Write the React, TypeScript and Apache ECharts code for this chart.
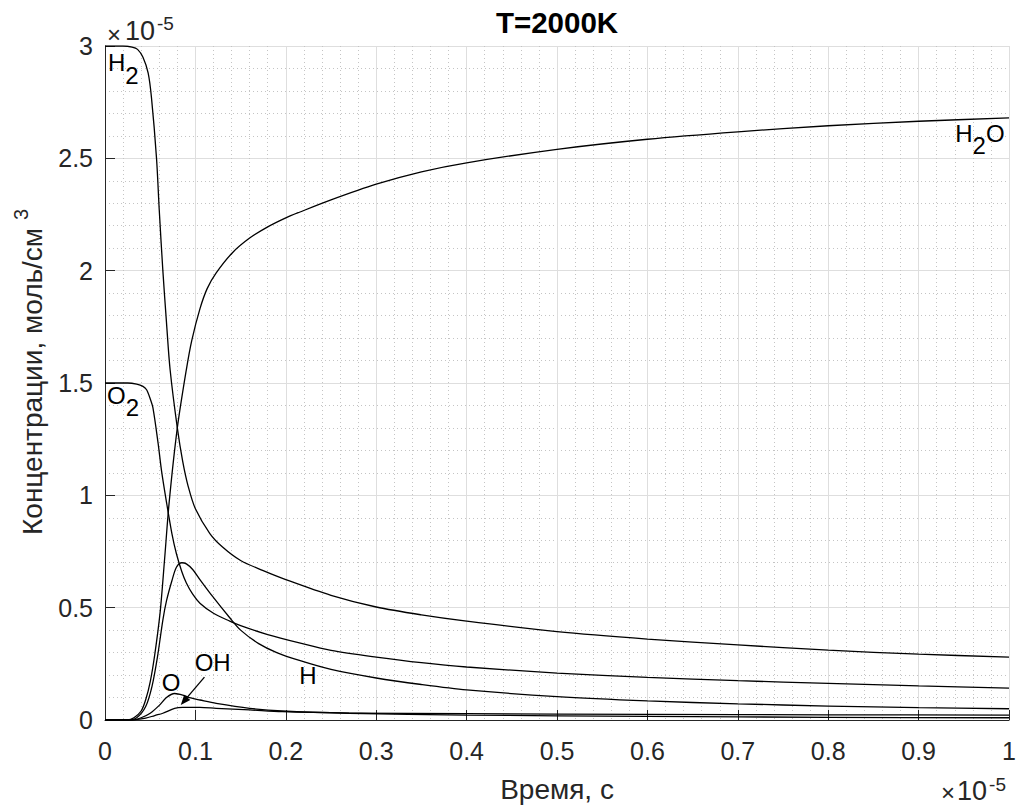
import { useEffect, useRef } from "react";
import * as echarts from "echarts";

const FONT = "'Liberation Sans', Arial, Helvetica, sans-serif";
const INK = "#262626";

// Time in units of 1e-5 s, concentrations in units of 1e-5 mol/cm^3
const h2Time = [0, 0.02, 0.03, 0.036, 0.042, 0.0477, 0.0514, 0.057, 0.06, 0.064, 0.068, 0.072, 0.08, 0.086, 0.092, 0.1, 0.116, 0.13, 0.15, 0.175, 0.2, 0.25, 0.3, 0.35, 0.4, 0.5, 0.6, 0.7, 0.8, 0.9, 1.0];
const h2Conc = [3.0, 3.0, 2.995, 2.985, 2.95, 2.88, 2.77, 2.5, 2.27, 2.0, 1.77, 1.56, 1.3, 1.15, 1.04, 0.94, 0.83, 0.77, 0.71, 0.665, 0.625, 0.555, 0.503, 0.468, 0.44, 0.393, 0.36, 0.334, 0.311, 0.293, 0.28];

const o2Time = [0, 0.025, 0.035, 0.042, 0.046, 0.05, 0.053, 0.0588, 0.0625, 0.068, 0.074, 0.079, 0.085, 0.09, 0.097, 0.105, 0.12, 0.138, 0.15, 0.18, 0.215, 0.25, 0.3, 0.35, 0.4, 0.5, 0.6, 0.7, 0.8, 0.9, 1.0];
const o2Conc = [1.5, 1.5, 1.495, 1.485, 1.47, 1.43, 1.39, 1.23, 1.11, 0.97, 0.83, 0.74, 0.66, 0.61, 0.56, 0.52, 0.475, 0.44, 0.42, 0.38, 0.343, 0.31, 0.28, 0.255, 0.236, 0.209, 0.19, 0.175, 0.163, 0.152, 0.142];

const h2oTime = [0, 0.025, 0.032, 0.04, 0.045, 0.05, 0.055, 0.061, 0.066, 0.071, 0.08, 0.09, 0.096, 0.105, 0.113, 0.123, 0.141, 0.16, 0.18, 0.2, 0.215, 0.25, 0.3, 0.35, 0.4, 0.5, 0.6, 0.7, 0.8, 0.9, 1.0];
const h2oConc = [0, 0, 0.01, 0.04, 0.09, 0.17, 0.29, 0.48, 0.72, 0.97, 1.3, 1.56, 1.69, 1.83, 1.92, 1.99, 2.08, 2.145, 2.195, 2.235, 2.26, 2.315, 2.385, 2.44, 2.48, 2.54, 2.585, 2.618, 2.645, 2.665, 2.68];

const hTime = [0, 0.025, 0.035, 0.045, 0.052, 0.058, 0.064, 0.068, 0.074, 0.079, 0.085, 0.09, 0.097, 0.105, 0.119, 0.138, 0.15, 0.17, 0.19, 0.215, 0.25, 0.3, 0.35, 0.4, 0.5, 0.6, 0.7, 0.8, 0.9, 1.0];
const hConc = [0, 0, 0.01, 0.06, 0.15, 0.28, 0.445, 0.53, 0.62, 0.68, 0.7, 0.695, 0.67, 0.625, 0.55, 0.455, 0.4, 0.34, 0.3, 0.265, 0.225, 0.187, 0.158, 0.134, 0.104, 0.085, 0.072, 0.062, 0.055, 0.05];

const oTime = [0, 0.03, 0.04, 0.05, 0.06, 0.068, 0.077, 0.086, 0.095, 0.105, 0.123, 0.16, 0.196, 0.27, 0.4, 0.6, 0.8, 1.0];
const oConc = [0, 0, 0.01, 0.03, 0.065, 0.1, 0.118, 0.111, 0.098, 0.089, 0.074, 0.052, 0.04, 0.03, 0.022, 0.016, 0.012, 0.01];

const ohTime = [0, 0.03, 0.045, 0.055, 0.064, 0.077, 0.086, 0.105, 0.123, 0.16, 0.196, 0.27, 0.4, 0.6, 0.8, 1.0];
const ohConc = [0, 0, 0.008, 0.02, 0.03, 0.052, 0.056, 0.056, 0.052, 0.045, 0.037, 0.031, 0.028, 0.025, 0.023, 0.022];

const TITLE = "T=2000K";
const X_LABEL = "Время, с";
const Y_LABEL = "Концентрации, моль/см";
const Y_LABEL_SUP = "3";
const EXP_BASE = "10";
const EXP_POWER = "-5";

const X_MIN = 0, X_MAX = 1, X_STEP = 0.1;
const Y_MIN = 0, Y_MAX = 3, Y_STEP = 0.5;

type Piece = { text: string; sub?: boolean };
const curveLabels: { pieces: Piece[]; at: [number, number] }[] = [
  { pieces: [{ text: "H" }, { text: "2", sub: true }], at: [0.0033, 2.926] },
  { pieces: [{ text: "O" }, { text: "2", sub: true }], at: [0.0022, 1.446] },
  { pieces: [{ text: "H" }, { text: "2", sub: true }, { text: "O" }], at: [0.9405, 2.612] },
  { pieces: [{ text: "O" }], at: [0.0628, 0.165] },
  { pieces: [{ text: "OH" }], at: [0.0992, 0.258] },
  { pieces: [{ text: "H" }], at: [0.215, 0.196] },
];
const ohArrow: { from: [number, number]; to: [number, number] } = { from: [0.11, 0.191], to: [0.0838, 0.067] };

const zip = (t: number[], c: number[]) => t.map((v, i) => [v, c[i]]);

const seriesDefs = [
  { name: "H2", t: h2Time, c: h2Conc },
  { name: "O2", t: o2Time, c: o2Conc },
  { name: "H2O", t: h2oTime, c: h2oConc },
  { name: "H", t: hTime, c: hConc },
  { name: "O", t: oTime, c: oConc },
  { name: "OH", t: ohTime, c: ohConc },
];

const GRID = { left: 105, right: 7, top: 46, bottom: 92 };
const FS = 25;

export default function App() {
  const ref = useRef<HTMLDivElement>(null);
  useEffect(() => {
    document.body.style.margin = "0";
    const chart = echarts.init(ref.current!, null, { renderer: "svg" });
    const axisCommon = {
      type: "value" as const,
      axisLine: { show: true, onZero: false, lineStyle: { color: INK, width: 1 } },
      axisTick: { show: true, inside: true, length: 10, lineStyle: { color: INK, width: 1 } },
      splitLine: { show: true, lineStyle: { color: "#dedede", width: 1 } },
      minorTick: { show: false, splitNumber: 5 },
      minorSplitLine: { show: true, lineStyle: { color: "#c4c4c4", width: 1, type: [1, 3] as any } },
    };
    chart.setOption({
      animation: false,
      backgroundColor: "#ffffff",
      grid: { ...GRID, containLabel: false },
      xAxis: {
        ...axisCommon,
        min: X_MIN,
        max: X_MAX,
        interval: X_STEP,
        axisLabel: {
          fontSize: FS,
          fontFamily: FONT,
          color: INK,
          margin: 18,
          formatter: (v: number) => String(parseFloat(v.toFixed(1))),
        },
      },
      yAxis: {
        ...axisCommon,
        min: Y_MIN,
        max: Y_MAX,
        interval: Y_STEP,
        axisLabel: {
          fontSize: FS,
          fontFamily: FONT,
          color: INK,
          margin: 12,
          formatter: (v: number) => String(parseFloat(v.toFixed(1))),
        },
      },
      series: seriesDefs.map((s) => ({
        type: "line",
        name: s.name,
        data: zip(s.t, s.c),
        showSymbol: false,
        symbol: "none",
        smooth: 0.3,
        lineStyle: { color: "#000000", width: 1.3 },
        emphasis: { disabled: true },
      })),
    });

    const ctx = document.createElement("canvas").getContext("2d")!;
    const measure = (s: string, size: number, weight = "normal") => {
      ctx.font = `${weight} ${size}px ${FONT}`;
      return ctx.measureText(s).width;
    };
    const toPx = (p: [number, number]) => chart.convertToPixel({ gridIndex: 0 }, p) as number[];
    const txt = (text: string, x: number, y: number, size: number, opts: any = {}) => ({
      type: "text",
      x,
      y,
      silent: true,
      style: {
        text,
        fontSize: size,
        fontFamily: FONT,
        fontWeight: opts.weight || "normal",
        fill: opts.fill || "#000000",
        align: opts.align || "left",
        textAlign: opts.align || "left",
        verticalAlign: "middle",
        textVerticalAlign: "middle",
      },
    });

    const graphics: any[] = [];
    const LFS = 24;
    const SUB_DY = 12.5;
    curveLabels.forEach((lab) => {
      const [px, py] = toPx(lab.at);
      let cx = px;
      lab.pieces.forEach((p) => {
        graphics.push(txt(p.text, cx, py + (p.sub ? SUB_DY : 0), LFS));
        cx += measure(p.text, LFS);
      });
    });

    // arrow to OH curve
    const [sx, sy] = toPx(ohArrow.from);
    const [ex, ey] = toPx(ohArrow.to);
    const dx = ex - sx, dy = ey - sy;
    const len = Math.hypot(dx, dy);
    const ux = dx / len, uy = dy / len;
    const L = 10, W = 4;
    graphics.push({
      type: "line",
      silent: true,
      shape: { x1: sx, y1: sy, x2: ex - ux * L * 0.6, y2: ey - uy * L * 0.6 },
      style: { stroke: "#000000", lineWidth: 1.3 },
    });
    graphics.push({
      type: "polygon",
      silent: true,
      shape: {
        points: [
          [ex, ey],
          [ex - ux * L - uy * W, ey - uy * L + ux * W],
          [ex - ux * L + uy * W, ey - uy * L - ux * W],
        ],
      },
      style: { fill: "#000000" },
    });

    // plot corners
    const [leftX, topY] = toPx([X_MIN, Y_MAX]);
    const [rightX, bottomY] = toPx([X_MAX, Y_MIN]);
    const midX = (leftX + rightX) / 2;

    // title
    graphics.push(txt(TITLE, midX, 22.5, 29.5, { weight: "bold", align: "center" }));
    // x label
    graphics.push(txt(X_LABEL, midX, 789, 28, { align: "center", fill: INK }));

    // exponent, top-left
    graphics.push(txt("×", leftX + 2, topY - 12, 24, { fill: INK }));
    graphics.push(txt(EXP_BASE, leftX + 20, topY - 15, 27, { fill: INK }));
    graphics.push(txt(EXP_POWER, leftX + 52, topY - 23, 19, { fill: INK }));
    // exponent, bottom-right
    graphics.push(txt("×", rightX - 68, bottomY + 72, 24, { fill: INK }));
    graphics.push(txt(EXP_BASE, rightX - 52, bottomY + 71, 27, { fill: INK }));
    graphics.push(txt(EXP_POWER, rightX - 20, bottomY + 64, 19, { fill: INK }));

    // y label (rotated)
    const YS = 28;
    const SUPS = 20;
    const mainW = measure(Y_LABEL, YS);
    const spW = measure(" ", YS);
    const supW = measure(Y_LABEL_SUP, SUPS);
    const total = mainW + spW + supW;
    graphics.push({
      type: "group",
      x: 32,
      y: 372,
      rotation: Math.PI / 2,
      silent: true,
      children: [
        txt(Y_LABEL, -total / 2, 0, YS, { fill: INK }),
        txt(Y_LABEL_SUP, -total / 2 + mainW + spW, -11, SUPS, { fill: INK }),
      ],
    });

    chart.setOption({ graphic: graphics });
    return () => chart.dispose();
  }, []);
  return <div ref={ref} style={{ position: "fixed", left: 0, top: 0, width: 1019, height: 812 }} />;
}
